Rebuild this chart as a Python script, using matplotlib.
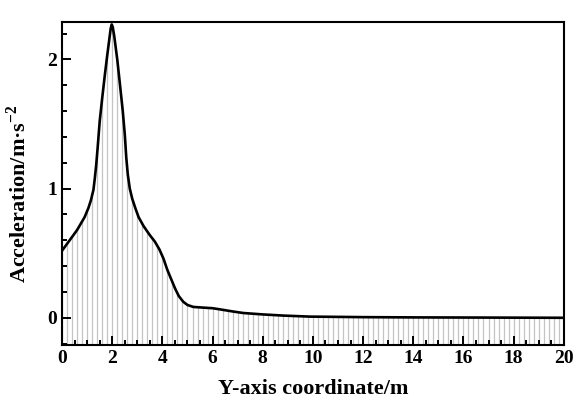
import numpy as np
import matplotlib
matplotlib.use("Agg")
import matplotlib.pyplot as plt
from matplotlib.ticker import MultipleLocator

# values
y_coord = [0.0, 0.3, 0.6, 0.9, 1.05, 1.15, 1.25, 1.3, 1.36, 1.42, 1.5, 1.6, 1.7,
           1.8, 1.88, 1.94, 1.98, 2.02, 2.08, 2.2, 2.3, 2.42, 2.5, 2.56, 2.62,
           2.7, 2.8, 2.92, 3.05, 3.25, 3.5, 3.7, 3.88, 4.04, 4.2, 4.35, 4.5,
           4.65, 4.83, 5.0, 5.23, 5.6, 6.0, 6.3, 6.8, 7.22, 8.0, 8.82, 9.88,
           11.0, 12.0, 14.0, 16.0, 18.0, 20.0]
accel = [0.52, 0.6, 0.68, 0.78, 0.85, 0.91, 0.99, 1.07, 1.18, 1.32, 1.52, 1.7,
         1.87, 2.03, 2.15, 2.24, 2.27, 2.25, 2.18, 2.0, 1.82, 1.6, 1.42, 1.24,
         1.11, 1.0, 0.92, 0.85, 0.78, 0.71, 0.64, 0.59, 0.53, 0.46, 0.37, 0.3,
         0.23, 0.17, 0.125, 0.1, 0.085, 0.08, 0.075, 0.066, 0.05, 0.038, 0.027,
         0.018, 0.01, 0.008, 0.006, 0.004, 0.003, 0.002, 0.001]

x_ticks = list(range(0, 21, 2))
y_ticks = [0, 1, 2]

plt.rcParams["font.family"] = ["Liberation Serif", "DejaVu Serif"]
plt.rcParams["font.weight"] = "bold"
plt.rcParams["mathtext.fontset"] = "custom"
plt.rcParams["mathtext.rm"] = "Liberation Serif:bold"
plt.rcParams["mathtext.bf"] = "Liberation Serif:bold"

fig = plt.figure(figsize=(5.8, 4.05), dpi=100)
ax = fig.add_axes([0.107, 0.148, 0.865, 0.798])

ymin, ymax = -0.21, 2.29
# vertical grey fill lines under the curve
xs = np.arange(0, 20.0001, 0.2)
ax.vlines(xs, ymin, np.interp(xs, y_coord, accel), color="#c4c4c4", lw=0.9, zorder=1)
ax.plot(y_coord, accel, color="black", lw=1.9, zorder=3,
        solid_joinstyle="round")

ax.set_xlim(0, 20)
ax.set_ylim(ymin, ymax)
ax.set_xticks(x_ticks)
ax.set_yticks(y_ticks)
ax.xaxis.set_minor_locator(MultipleLocator(0.5))
ax.yaxis.set_minor_locator(MultipleLocator(0.2))
ax.tick_params(which="both", direction="in", top=False, right=False, width=1.4,
               labelsize=14)
ax.tick_params(which="major", length=6.5)
ax.tick_params(which="minor", length=3.5)
for s in ax.spines.values():
    s.set_linewidth(1.5)

ax.set_xlabel("Y-axis coordinate/m", fontsize=16, fontweight="bold")
ax.set_ylabel("Acceleration/m\u00b7s$^{\\mathbf{-2}}$", fontsize=16, fontweight="bold")
ax.xaxis.set_label_coords(0.5, -0.105)
ax.yaxis.set_label_coords(-0.062, 0.47)

fig.savefig("out.png", dpi=100)
